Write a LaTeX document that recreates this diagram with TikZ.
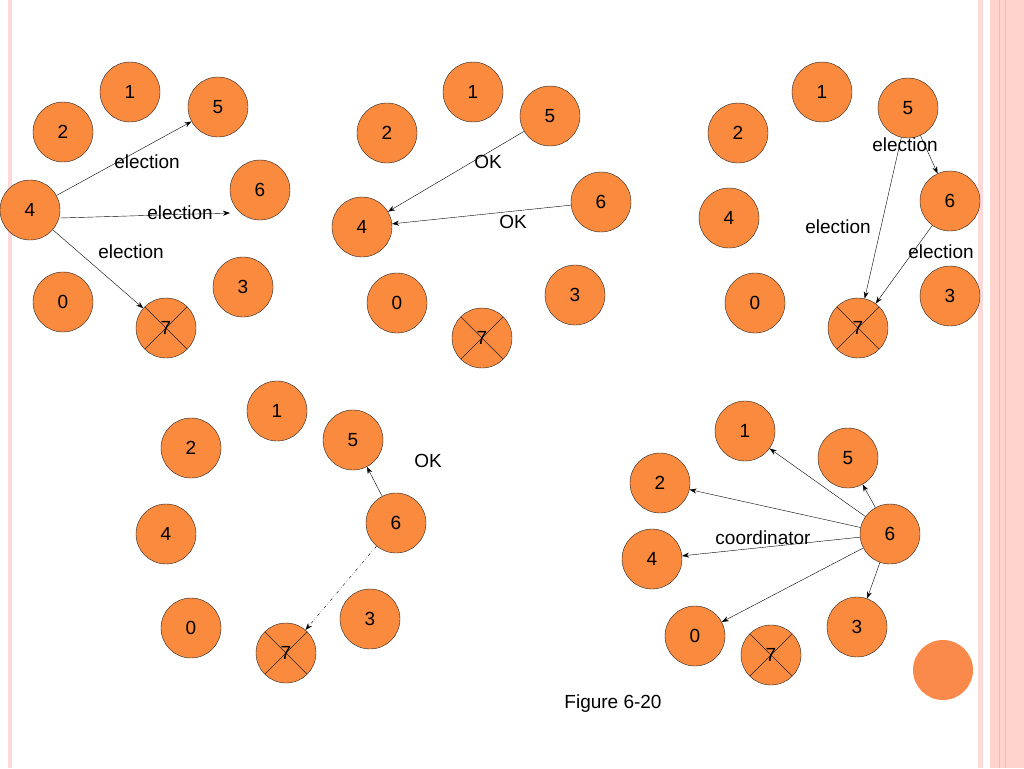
\documentclass[tikz,border=0pt]{standalone}
\usetikzlibrary{arrows.meta}
\usepackage{fontspec}
\setmainfont{Liberation Sans}
\begin{document}
\begin{tikzpicture}[x=1pt,y=-1pt,
 nd/.style={circle,draw=black!85,fill=nodefill,minimum size=60pt,inner sep=0pt,font=\fontsize{19}{19}\selectfont},
 dead/.style={nd,path picture={\draw (path picture bounding box.south west)--(path picture bounding box.north east) (path picture bounding box.north west)--(path picture bounding box.south east);}},
 ar/.style={-{Stealth[length=7pt,width=5pt]},thin},
 lb/.style={font=\fontsize{19}{19}\selectfont,inner sep=0pt}]
\definecolor{nodefill}{HTML}{F98A3E}
\definecolor{bigfill}{HTML}{FA8A4C}
\useasboundingbox (0,0) rectangle (1024,768);
\fill[white] (0,0) rectangle (1024,768);
\fill[red!15] (8,0) rectangle (12,768);
\fill[red!15] (978,0) rectangle (983,768);
\fill[orange!30!red!20] (990,0) rectangle (1024,768);
\draw[orange!60!red!40] (999,0)--(999,768) (1005,0)--(1005,768);
% panel 1
\node[nd] (a1) at (130,92) {1}; \node[nd] (a2) at (63,132) {2};
\node[nd] (a5) at (218,107) {5}; \node[nd] (a4) at (30,210) {4};
\node[nd] (a6) at (260,190) {6}; \node[nd] (a3) at (243,287) {3};
\node[nd] (a0) at (63,302) {0}; \node[dead] (a7) at (166,328) {7};
\coordinate (a6e) at (230,213);
\draw[ar] (a4) -- (a5); \draw[ar] (a4.east) ++(0,8) -- (a6e); \draw[ar] (a4) -- (a7);
\node[lb] at (147,162) {election}; \node[lb] at (180,213) {election}; \node[lb] at (131,252) {election};
% panel 2
\node[nd] (b1) at (473,92) {1}; \node[nd] (b2) at (387,133) {2};
\node[nd] (b5) at (550,116) {5}; \node[nd] (b4) at (362,227) {4};
\node[nd] (b6) at (601,202) {6}; \node[nd] (b0) at (397,303) {0};
\node[nd] (b3) at (575,295) {3}; \node[dead] (b7) at (482,338) {7};
\draw[ar] (b5) -- (b4); \draw[ar] (b6) -- (b4);
\node[lb] at (488,162) {OK}; \node[lb] at (513,222) {OK};
% panel 3
\node[nd] (c1) at (822,92) {1}; \node[nd] (c2) at (738,133) {2};
\node[nd] (c5) at (908,108) {5}; \node[nd] (c4) at (729,218) {4};
\node[nd] (c6) at (950,201) {6}; \node[nd] (c0) at (755,303) {0};
\node[nd] (c3) at (950,296) {3}; \node[dead] (c7) at (858,328) {7};
\draw[ar] (c5) -- (c6); \draw[ar] (c5) -- (c7); \draw[ar] (c6) -- (c7);
\node[lb] at (905,145) {election}; \node[lb] at (838,227) {election}; \node[lb] at (941,252) {election};
% panel 4
\node[nd] (d1) at (277,411) {1}; \node[nd] (d2) at (191,448) {2};
\node[nd] (d5) at (353,440) {5}; \node[nd] (d4) at (166,534) {4};
\node[nd] (d6) at (396,523) {6}; \node[nd] (d0) at (191,628) {0};
\node[nd] (d3) at (370,619) {3}; \node[dead] (d7) at (286,653) {7};
\draw[ar] (d6) -- (d5); \draw[ar,dash dot dot] (d6) -- (d7);
\node[lb] at (428,461) {OK};
% panel 5
\node[nd] (e1) at (745,431) {1}; \node[nd] (e2) at (660,483) {2};
\node[nd] (e5) at (848,458) {5}; \node[nd] (e4) at (652,559) {4};
\node[nd] (e6) at (890,534) {6}; \node[nd] (e0) at (695,636) {0};
\node[nd] (e3) at (857,627) {3}; \node[dead] (e7) at (771,655) {7};
\foreach \t in {e1,e2,e4,e5,e3,e0} \draw[ar] (e6) -- (\t);
\node[lb] at (763,538) {coordinator};
\node[circle,fill=bigfill,minimum size=60pt] (big) at (943,670) {};
\node[lb] (fig) at (613,704) {Figure 6-20};
\end{tikzpicture}
\end{document}
